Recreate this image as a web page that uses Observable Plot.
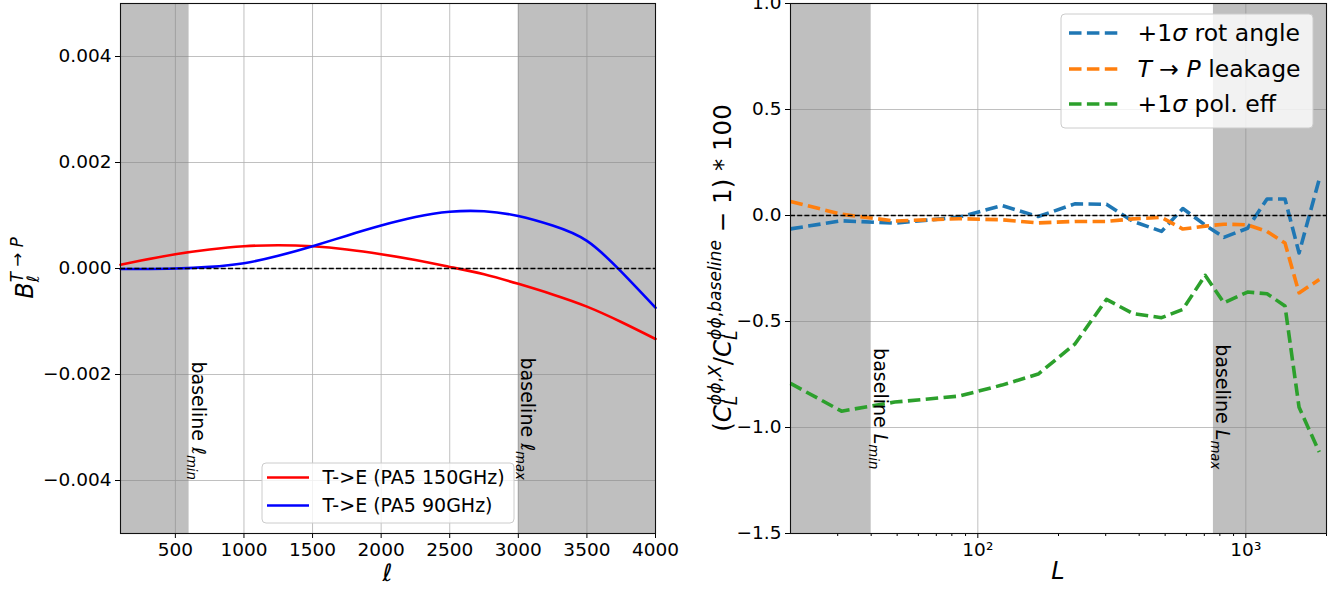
<!DOCTYPE html>
<html><head><meta charset="utf-8">
<script src="https://cdn.jsdelivr.net/npm/d3@7"></script>
<script src="https://cdn.jsdelivr.net/npm/@observablehq/plot@0.6"></script>
<style>
body{margin:0;background:#fff;}
#wrap{position:relative;width:1341px;height:593px;display:flex;overflow:hidden;background:#fff;}
#wrap svg{display:block;}
</style></head><body><div id="wrap"></div>
<script>
// ---------- data ----------
const ell = [100, 250, 500, 750, 1000, 1250, 1500, 1750, 2000, 2250, 2500, 2750, 3000, 3250, 3500, 3750, 4000];
const bTE150 = [0.00007, 0.00015, 0.00027, 0.00036, 0.00042, 0.00044, 0.00042, 0.00036, 0.00027, 0.00016, 0.00003, -0.00011, -0.00029, -0.00049, -0.00072, -0.00101, -0.00133];
const bTE90  = [-0.00001, -0.00001, 0.0, 0.00003, 0.0001, 0.00024, 0.00042, 0.00062, 0.00081, 0.00097, 0.00107, 0.00108, 0.00099, 0.00081, 0.00052, -0.00006, -0.00074];
const leftXTicks = [500, 1000, 1500, 2000, 2500, 3000, 3500, 4000];
const leftYTicks = [-0.004, -0.002, 0, 0.002, 0.004];
const leftSpans = [[100, 600], [3000, 4000]];
const leftSeries = ["T->E (PA5 150GHz)", "T->E (PA5 90GHz)"];

const Lbins   = [20, 31, 49, 85, 123, 168, 230, 302, 380, 485, 582, 705, 828, 1015, 1200, 1400, 1580, 1880];
const rotAngle = [-0.063, -0.025, -0.036, -0.008, 0.047, -0.005, 0.055, 0.053, -0.028, -0.075, 0.033, -0.045, -0.103, -0.06, 0.078, 0.078, -0.177, 0.172];
const leakage  = [0.066, 0.006, -0.026, -0.015, -0.02, -0.035, -0.028, -0.028, -0.016, -0.009, -0.064, -0.05, -0.041, -0.044, -0.075, -0.13, -0.365, -0.302];
const polEff   = [-0.792, -0.923, -0.88, -0.852, -0.80, -0.748, -0.607, -0.396, -0.463, -0.482, -0.443, -0.282, -0.412, -0.361, -0.369, -0.427, -0.905, -1.116];
const rightXMajor = [100, 1000];
const rightXMajorLabels = ["10²", "10³"];
const rightXMinor = [30, 40, 50, 60, 70, 80, 90, 200, 300, 400, 500, 600, 700, 800, 900, 2000];
const rightYTicks = [-1.5, -1.0, -0.5, 0.0, 0.5, 1.0];
const rightSpans = [[20, 40], [757, 2000]];

// ---------- style ----------
const FONT = "DejaVu Sans";
const GRID = {stroke: "#b0b0b0", strokeOpacity: 1, strokeWidth: 0.8};
const SHADE = {fill: "#808080", fillOpacity: 0.5};
const ZERO = {stroke: "black", strokeWidth: 1.3, strokeDasharray: "5,2.2"};
const tab = {rot: "#1f77b4", leak: "#ff7f0e", pol: "#2ca02c"};
const DASH = {strokeWidth: 3.6, strokeDasharray: "12.5,5.4", strokeLinecap: "butt", strokeLinejoin: "round"};

const wrap = document.getElementById("wrap");

// ---------- left chart ----------
const leftData = ell.map((l, i) => ({ell: l, b150: bTE150[i], b90: bTE90[i]}));
const left = Plot.plot({
  width: 670, height: 593, marginLeft: 120, marginRight: 15, marginTop: 3, marginBottom: 60,
  style: {fontFamily: FONT, fontSize: "18px", color: "black", background: "none", overflow: "visible", position: "relative", zIndex: 2},
  x: {domain: [100, 4000]},
  y: {domain: [-0.005, 0.005]},
  marks: [
    Plot.gridX(leftXTicks, GRID),
    Plot.gridY(leftYTicks, GRID),
    Plot.rect(leftSpans, {x1: d => d[0], x2: d => d[1], ...SHADE}),
    Plot.line(leftData, {x: "ell", y: "b150", stroke: "red", strokeWidth: 2.6, curve: "natural"}),
    Plot.line(leftData, {x: "ell", y: "b90", stroke: "blue", strokeWidth: 2.6, curve: "natural"}),
    Plot.ruleY([0], ZERO),
    Plot.axisX({ticks: leftXTicks, tickFormat: "d", tickSize: 5, tickPadding: 4, label: null, fontSize: 18.5}),
    Plot.axisY({ticks: leftYTicks, tickFormat: ".3f", tickSize: 5, tickPadding: 4, label: null, fontSize: 18.5}),
    Plot.frame({stroke: "#111", strokeWidth: 1.1})
  ]
});
wrap.appendChild(left);

// ---------- right chart ----------
const rightRows = (vals) => Lbins.map((L, i) => ({L, v: vals[i]}));
const right = Plot.plot({
  width: 671, height: 593, marginLeft: 120, marginRight: 15, marginTop: 3, marginBottom: 60,
  style: {fontFamily: FONT, fontSize: "18px", color: "black", background: "none", overflow: "visible", position: "relative", zIndex: 1},
  x: {type: "log", domain: [20, 2000]},
  y: {domain: [-1.5, 1.0]},
  marks: [
    Plot.gridX(rightXMajor, GRID),
    Plot.gridY(rightYTicks, GRID),
    Plot.rect(rightSpans, {x1: d => d[0], x2: d => d[1], ...SHADE}),
    Plot.line(rightRows(rotAngle), {x: "L", y: "v", stroke: tab.rot, ...DASH}),
    Plot.line(rightRows(leakage), {x: "L", y: "v", stroke: tab.leak, ...DASH}),
    Plot.line(rightRows(polEff), {x: "L", y: "v", stroke: tab.pol, ...DASH}),
    Plot.ruleY([0], ZERO),
    Plot.axisX({ticks: rightXMinor, tickSize: 3, tickFormat: () => "", label: null}),
    Plot.axisX({ticks: rightXMajor, tickSize: 5, tickPadding: 4, label: null, fontSize: 18.5,
      tickFormat: d => rightXMajorLabels[rightXMajor.indexOf(d)]}),
    Plot.axisY({ticks: rightYTicks, tickFormat: ".1f", tickSize: 5, tickPadding: 4, label: null, fontSize: 18.5}),
    Plot.frame({stroke: "#111", strokeWidth: 1.1})
  ]
});
wrap.appendChild(right);

// ---------- rich text helper ----------
function richText(svg, x, y, angle, anchor, size, parts) {
  const t = svg.append("text")
    .attr("transform", `translate(${x},${y}) rotate(${angle})`)
    .attr("text-anchor", anchor).attr("font-family", FONT)
    .attr("font-size", size).attr("fill", "black");
  let off = 0, lastSub = null;
  const small = size * 0.7;
  for (const p of parts) {
    const target = p.lv === "sub" ? size * 0.24 : p.lv === "sup" ? -size * 0.42 : 0;
    const ts = t.append("tspan").text(p.t);
    if (p.it) ts.attr("font-style", "italic");
    if (p.lv) ts.attr("font-size", small);
    if (target !== off) { ts.attr("dy", target - off); off = target; }
    if (p.stack && lastSub) ts.attr("dx", -lastSub.node().getComputedTextLength());
    if (p.lv === "sub") lastSub = ts;
  }
  return t;
}

const sL = d3.select(left), sR = d3.select(right);
const lx = left.scale("x"), ly = left.scale("y");
const rx = right.scale("x"), ry = right.scale("y");

// annotations
richText(sL, lx.apply(600) + 3, ly.apply(-0.004), 90, "end", 19,
  [{t: "baseline "}, {t: "ℓ", it: 1}, {t: "min", it: 1, lv: "sub"}]);
richText(sL, lx.apply(3000) + 3, ly.apply(-0.004), 90, "end", 19,
  [{t: "baseline "}, {t: "ℓ", it: 1}, {t: "max", it: 1, lv: "sub"}]);
richText(sR, rx.apply(40) + 3, ry.apply(-1.2), 90, "end", 19,
  [{t: "baseline "}, {t: "L", it: 1}, {t: "min", it: 1, lv: "sub"}]);
richText(sR, rx.apply(757) + 3, ry.apply(-1.2), 90, "end", 19,
  [{t: "baseline "}, {t: "L", it: 1}, {t: "max", it: 1, lv: "sub"}]);

// axis labels
richText(sL, 387.5, 581, 0, "middle", 24, [{t: "ℓ", it: 1}]);
richText(sL, 33, 268, -90, "middle", 24,
  [{t: "B", it: 1}, {t: "ℓ", it: 1, lv: "sub"}, {t: "T", it: 1, lv: "sup", stack: 1}, {t: " → ", lv: "sup"}, {t: "P", it: 1, lv: "sup"}]);
richText(sR, 388, 579, 0, "middle", 24, [{t: "L", it: 1}]);
richText(sR, 61, 268, -90, "middle", 24.5, [
  {t: "("}, {t: "C", it: 1}, {t: "L", it: 1, lv: "sub"}, {t: "ϕϕ", it: 1, lv: "sup", stack: 1}, {t: ",", lv: "sup"}, {t: "X", it: 1, lv: "sup"},
  {t: "/"}, {t: "C", it: 1}, {t: "L", it: 1, lv: "sub"}, {t: "ϕϕ", it: 1, lv: "sup", stack: 1}, {t: ",", lv: "sup"}, {t: "baseline", it: 1, lv: "sup"},
  {t: " − 1) * 100"}
]);

// legends
function legend(svg, box, items, size) {
  const g = svg.append("g");
  g.append("rect").attr("x", box[0]).attr("y", box[1]).attr("width", box[2]).attr("height", box[3])
    .attr("rx", 4).attr("fill", "white").attr("fill-opacity", 0.8).attr("stroke", "#cccccc").attr("stroke-width", 1);
  for (const it of items) {
    g.append("line").attr("x1", it.x1).attr("x2", it.x2).attr("y1", it.y).attr("y2", it.y)
      .attr("stroke", it.color).attr("stroke-width", it.w).attr("stroke-dasharray", it.dash || null)
      .attr("stroke-linecap", "butt");
    const t = richText(g, it.tx, it.y, 0, "start", size, it.parts);
    t.attr("dy", "0.36em");
  }
}
legend(sL, [262, 463, 252, 60], [
  {x1: 267, x2: 309, y: 477.5, color: "red", w: 2.6, tx: 322.5, parts: [{t: leftSeries[0]}]},
  {x1: 267, x2: 309, y: 505.5, color: "blue", w: 2.6, tx: 322.5, parts: [{t: leftSeries[1]}]}
], 19);
legend(sR, [391, 14, 252, 114], [
  {x1: 399, x2: 448, y: 33, color: tab.rot, w: 3.6, dash: "12.5,5.4", tx: 467.5, parts: [{t: "+1"}, {t: "σ", it: 1}, {t: " rot angle"}]},
  {x1: 399, x2: 448, y: 69, color: tab.leak, w: 3.6, dash: "12.5,5.4", tx: 467.5, parts: [{t: "T", it: 1}, {t: " → "}, {t: "P", it: 1}, {t: " leakage"}]},
  {x1: 399, x2: 448, y: 104, color: tab.pol, w: 3.6, dash: "12.5,5.4", tx: 467.5, parts: [{t: "+1"}, {t: "σ", it: 1}, {t: " pol. eff"}]}
], 23.5);
</script></body></html>
